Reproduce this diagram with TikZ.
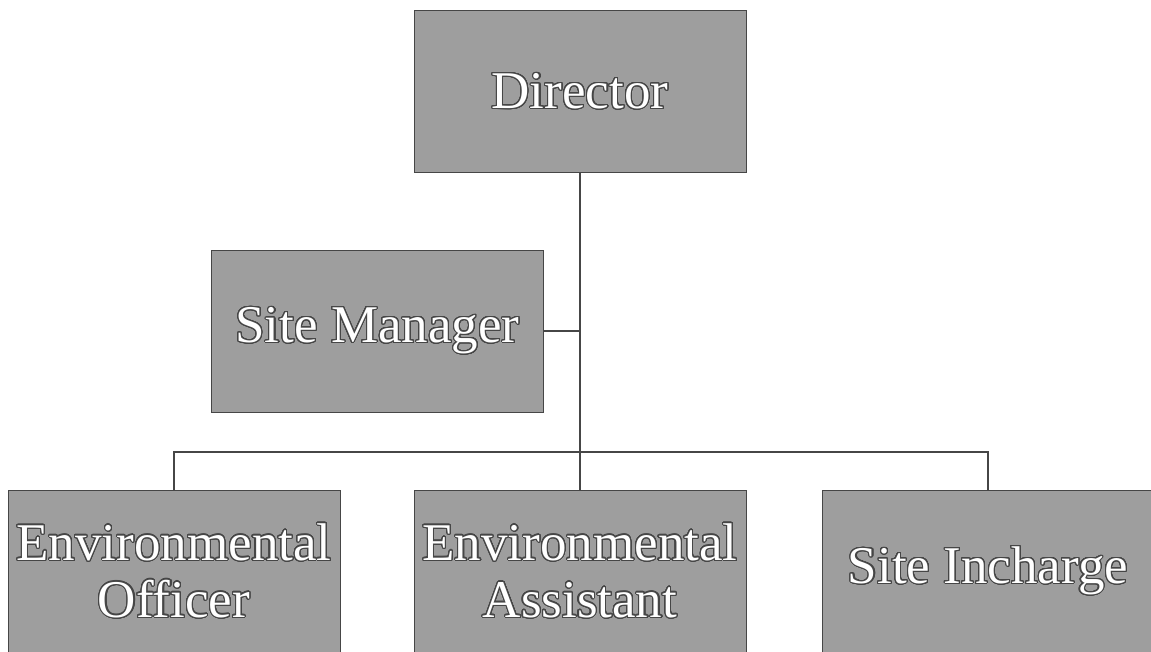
\documentclass[tikz,border=0pt]{standalone}
\usepackage{fontspec}
\setmainfont{Liberation Serif}
\usepackage{contour}
\contourlength{1.1pt}
\contournumber{32}
\definecolor{boxgray}{RGB}{158,158,158}
\definecolor{edgegray}{RGB}{70,70,70}
\newcommand{\otxt}[1]{\contour{edgegray}{#1}}
\tikzset{
  orgbox/.style={draw=edgegray, line width=0.9pt, fill=boxgray,
    minimum width=332pt, minimum height=162pt, inner sep=0pt,
    text=white, align=center, font=\fontsize{53}{57}\selectfont},
  link/.style={draw=edgegray, line width=2pt}
}
\begin{document}
\begin{tikzpicture}[x=1pt,y=-1pt]
\useasboundingbox (0,0) rectangle (1151,651);
\clip (0,0) rectangle (1151,651);
\node[orgbox] (dir) at (580,91.5) {\otxt{Director}};
\node[orgbox] (sm) at (377.5,331) {\otxt{Site Manager}};
\node[orgbox] (eo) at (174,571) {\otxt{Environmental}\\\otxt{Officer}};
\node[orgbox] (ea) at (580,571) {\otxt{Environmental}\\\otxt{Assistant}};
\node[orgbox] (si) at (988,571) {\otxt{Site Incharge}};
\coordinate (bus) at (580,452);
\draw[link] (dir.south) -- (dir |- bus);
\draw[link] (sm.east) -- (sm.east -| dir);
\draw[link] (eo.north) -- (eo |- bus) -- (si |- bus) -- (si.north);
\draw[link] (ea.north) -- (ea |- bus);
\end{tikzpicture}
\end{document}
